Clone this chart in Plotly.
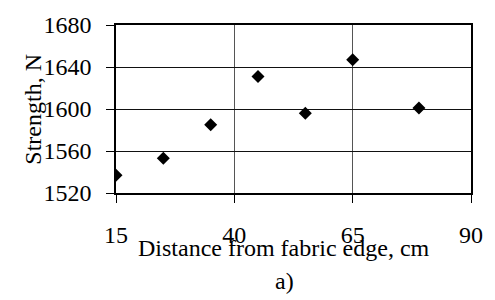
import plotly.graph_objects as go

distance_cm = [15, 25, 35, 45, 55, 65, 79]
strength_n = [1537, 1553, 1585, 1631, 1596, 1647, 1601]
x_ticks = [15, 40, 65, 90]
y_ticks = [1520, 1560, 1600, 1640, 1680]

FONT = "Liberation Serif, Times New Roman, serif"
FS = 24

plot_l, plot_r, plot_t, plot_b = 116, 478, 19, 193
W, H = 495, 300
pw, ph = plot_r - plot_l, plot_b - plot_t


def px_x(x):
    return (x - plot_l) / pw


def px_y(y):
    return (plot_b - y) / ph


fig = go.Figure(
    go.Scatter(
        x=distance_cm,
        y=strength_n,
        mode="markers",
        marker=dict(symbol="diamond", size=10, color="black"),
        showlegend=False,
    )
)

fig.update_layout(
    width=W,
    height=H,
    margin=dict(l=plot_l, r=W - plot_r, t=plot_t, b=H - plot_b),
    paper_bgcolor="white",
    plot_bgcolor="white",
    font=dict(family=FONT, size=FS, color="black"),
    xaxis=dict(
        range=[15, 90],
        tickvals=x_ticks,
        ticktext=[str(v) for v in x_ticks],
        showgrid=True,
        gridcolor="#555",
        gridwidth=1,
        showline=True,
        linecolor="black",
        linewidth=1.5,
        mirror=True,
        ticks="outside",
        ticklen=8,
        tickcolor="black",
        ticklabelstandoff=11,
        zeroline=False,
    ),
    yaxis=dict(
        range=[1520, 1680],
        tickvals=y_ticks,
        ticktext=[str(v) for v in y_ticks],
        showgrid=True,
        gridcolor="#111",
        gridwidth=1.2,
        showline=True,
        linecolor="black",
        linewidth=1.5,
        mirror=True,
        ticks="outside",
        ticklen=8,
        tickcolor="black",
        ticklabelstandoff=10,
        zeroline=False,
    ),
    annotations=[
        dict(
            text="Strength, N",
            x=px_x(31), y=px_y(106),
            xref="paper", yref="paper",
            textangle=-90,
            showarrow=False, xanchor="center", yanchor="middle",
        ),
        dict(
            text="Distance from fabric edge, cm",
            x=px_x(287), y=px_y(250),
            xref="paper", yref="paper",
            showarrow=False, xanchor="center", yanchor="middle",
        ),
        dict(
            text="a)",
            x=px_x(288), y=px_y(284),
            xref="paper", yref="paper",
            showarrow=False, xanchor="center", yanchor="middle",
        ),
    ],
)

fig.write_html(
    "out.html",
    config={"displayModeBar": False},
    post_script="document.body.style.margin='0';document.body.style.overflow='hidden';",
)
